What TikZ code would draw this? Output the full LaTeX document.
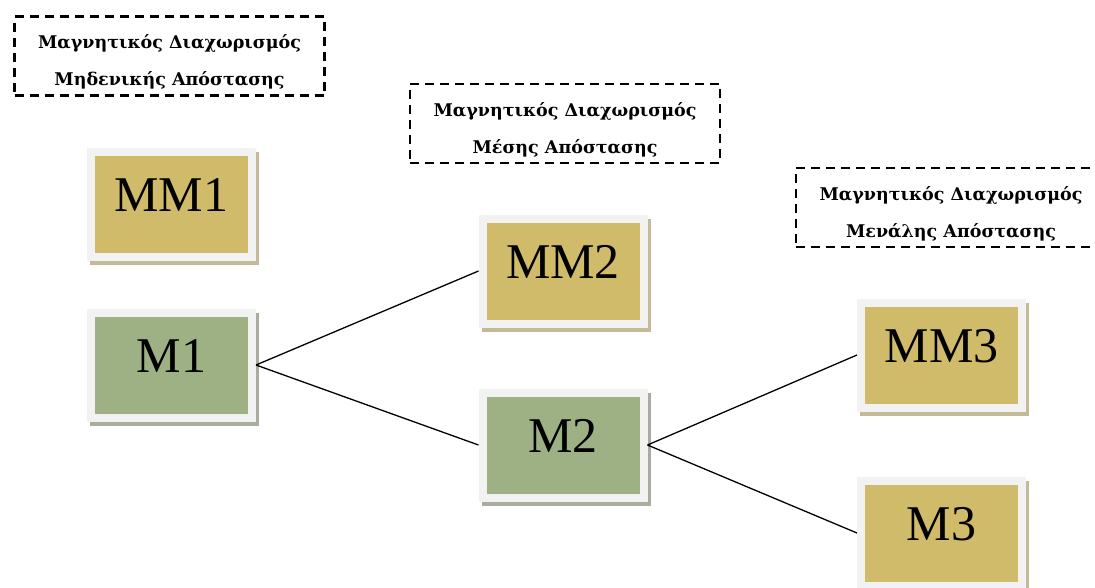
\documentclass[tikz,border=0pt]{standalone}
\usepackage{fontspec}
\setmainfont{Liberation Serif}
\newfontfamily\tagfont{DejaVu Serif}
\definecolor{goldfill}{HTML}{CFBB69}
\definecolor{goldshade}{HTML}{C4BA98}
\definecolor{greenfill}{HTML}{9EB185}
\definecolor{greenshade}{HTML}{A7AE9D}
\definecolor{framegray}{HTML}{F2F2F2}

\begin{document}
\begin{tikzpicture}[x=1pt,y=-1pt,
  box/.style={draw=framegray,line width=8pt,minimum width=161pt,minimum height=105pt,
    inner sep=0pt,text depth=18pt,font=\fontsize{50}{50}\selectfont},
  goldbox/.style={box,fill=goldfill,
    preaction={draw=goldshade,fill=goldshade,transform canvas={shift={(3pt,-4pt)}}}},
  greenbox/.style={box,fill=greenfill,
    preaction={draw=greenshade,fill=greenshade,transform canvas={shift={(3pt,-4pt)}}}},
  tag/.style={draw,line width=2.6pt,dash pattern=on 9pt off 6pt,minimum width=310pt,
    minimum height=79pt,align=center,font=\tagfont\bfseries\fontsize{17.5}{37}\selectfont},
  link/.style={line width=1.3pt}]
  \useasboundingbox (0,0) rectangle (1095,587);

  \path (169.5,56) node[tag] (tag1) {\rule{0pt}{26pt}Μαγνητικός Διαχωρισμός\\Μηδενικής Απόστασης};
  \path (565,123.5) node[tag] (tag2) {\rule{0pt}{26pt}Μαγνητικός Διαχωρισμός\\Μέσης Απόστασης};
  \path (951,207.5) node[tag] (tag3) {\rule{0pt}{26pt}Μαγνητικός Διαχωρισμός\\Μενάλης Απόστασης};

  \path (171.5,204) node[goldbox] (mm1) {MM1};
  \path (171.5,365) node[greenbox] (m1) {M1};
  \path (563,271) node[goldbox] (mm2) {MM2};
  \path (563,445) node[greenbox] (m2) {M2};
  \path (941.5,355) node[goldbox] (mm3) {MM3};
  \path (941.5,533) node[goldbox] (m3) {M3};

  \draw[link] (m1.east) -- (mm2.west);
  \draw[link] (m1.east) -- (m2.west);
  \draw[link] (m2.east) -- (mm3.west);
  \draw[link] (m2.east) -- (m3.west);

\end{tikzpicture}
\end{document}
